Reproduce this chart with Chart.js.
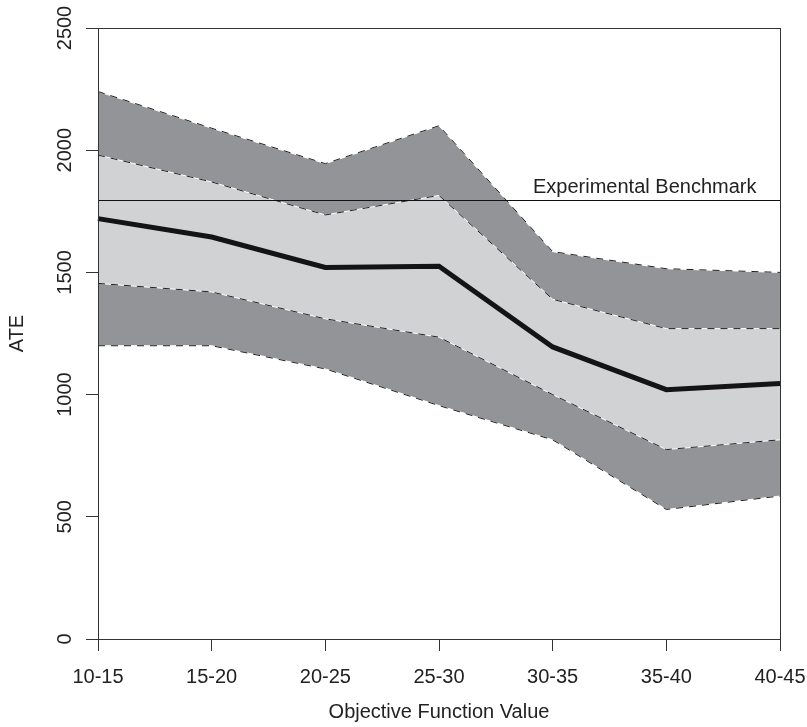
<!DOCTYPE html>
<html>
<head>
<meta charset="utf-8">
<script src="https://cdn.jsdelivr.net/npm/chart.js@4"></script>
<style>
  html, body { margin: 0; padding: 0; background: #ffffff; }
  #c { display: block; }
</style>
</head>
<body>
<canvas id="c" width="807" height="727"></canvas>
<script>
// ---- data ----
const categories = ['10-15', '15-20', '20-25', '25-30', '30-35', '35-40', '40-45'];
const outerUpper = [2240, 2090, 1945, 2100, 1585, 1515, 1500];
const innerUpper = [1980, 1870, 1735, 1815, 1390, 1270, 1270];
const meanATE    = [1720, 1645, 1520, 1525, 1195, 1020, 1045];
const innerLower = [1455, 1420, 1310, 1235, 1000, 775, 815];
const outerLower = [1200, 1200, 1105, 955, 815, 530, 585];
const benchmarkValue = 1795;
const benchmarkLabel = 'Experimental Benchmark';
const yTickValues = [0, 500, 1000, 1500, 2000, 2500];
const xTitle = 'Objective Function Value';
const yTitle = 'ATE';

// ---- styles ----
const FONT = '"Liberation Sans", Arial, Helvetica, sans-serif';
const FS = 20;
const DARK = 'rgb(147,148,151)';
const LIGHT = 'rgb(209,210,212)';
const AXIS = '#333333';

function fillSet(data, target, color, order) {
  return { data, fill: target === null ? false : { target }, backgroundColor: color,
           borderColor: 'transparent', borderWidth: 0, pointRadius: 0, tension: 0, order };
}
function lineSet(data, color, width, dash, order) {
  return { data, fill: false, borderColor: color, borderWidth: width, borderDash: dash,
           pointRadius: 0, tension: 0, order, borderJoinStyle: 'miter', borderCapStyle: 'butt' };
}

const boundaries = [outerUpper, innerUpper, innerLower, outerLower];
const datasets = [
  fillSet(outerUpper, 1, DARK, 10),
  fillSet(outerLower, null, 'transparent', 10),
  fillSet(innerUpper, 3, LIGHT, 9),
  fillSet(innerLower, null, 'transparent', 9),
];
boundaries.forEach(b => datasets.push(lineSet(b, '#ffffff', 1, [], 5)));
boundaries.forEach(b => datasets.push(lineSet(b, '#1f1f1f', 1, [7, 6], 4)));
datasets.push(lineSet(meanATE, '#141414', 5, [], 1));

const extras = {
  id: 'extras',
  afterDatasetsDraw(chart) {
    const { ctx, chartArea: a, scales } = chart;
    const y = scales.y, x = scales.x;
    ctx.save();
    // benchmark line
    const by = Math.round(y.getPixelForValue(benchmarkValue)) + 0.5;
    ctx.strokeStyle = '#111';
    ctx.lineWidth = 1;
    ctx.beginPath();
    ctx.moveTo(a.left, by);
    ctx.lineTo(a.right, by);
    ctx.stroke();
    ctx.fillStyle = '#222';
    ctx.font = FS + 'px ' + FONT;
    ctx.textAlign = 'center';
    ctx.textBaseline = 'alphabetic';
    ctx.fillText(benchmarkLabel, x.getPixelForValue(4.81), by - 8);
    // box
    ctx.strokeStyle = AXIS;
    ctx.lineWidth = 1;
    ctx.strokeRect(Math.round(a.left) + 0.5, Math.round(a.top) + 0.5,
                   Math.round(a.right - a.left), Math.round(a.bottom - a.top));
    // rotated y tick labels
    ctx.fillStyle = '#222';
    ctx.textAlign = 'center';
    ctx.textBaseline = 'alphabetic';
    yTickValues.forEach(v => {
      const py = y.getPixelForValue(v);
      ctx.save();
      ctx.translate(71, py);
      ctx.rotate(-Math.PI / 2);
      ctx.fillText(String(v), 0, 0);
      ctx.restore();
    });
    ctx.restore();
  }
};

new Chart(document.getElementById('c'), {
  type: 'line',
  data: { labels: categories, datasets },
  options: {
    responsive: false,
    animation: false,
    devicePixelRatio: 1,
    layout: { padding: { left: 0, right: 27, top: 28, bottom: 0 } },
    plugins: { legend: { display: false }, tooltip: { enabled: false } },
    scales: {
      x: {
        type: 'category',
        offset: false,
        grid: { drawOnChartArea: false, drawTicks: true, tickLength: 12, color: AXIS, lineWidth: 1 },
        border: { display: true, color: AXIS, width: 1 },
        ticks: { color: '#222', font: { family: FONT, size: FS }, padding: 14, maxRotation: 0, autoSkip: false },
        title: { display: true, text: xTitle, color: '#222', font: { family: FONT, size: FS }, padding: { top: 0, bottom: 3 } },
        afterFit(s) { s.height = 88; s.paddingLeft = 0; s.paddingRight = 0; }
      },
      y: {
        min: 0, max: 2500,
        afterBuildTicks(s) { s.ticks = yTickValues.map(v => ({ value: v })); },
        grid: { drawOnChartArea: false, drawTicks: true, tickLength: 12, color: AXIS, lineWidth: 1 },
        border: { display: true, color: AXIS, width: 1 },
        ticks: { display: false },
        title: { display: true, text: yTitle, color: '#222', font: { family: FONT, size: FS }, padding: { top: 5, bottom: 0 } },
        afterFit(s) { s.width = 98; s.paddingTop = 0; s.paddingBottom = 0; }
      }
    }
  },
  plugins: [extras]
});
</script>
</body>
</html>
